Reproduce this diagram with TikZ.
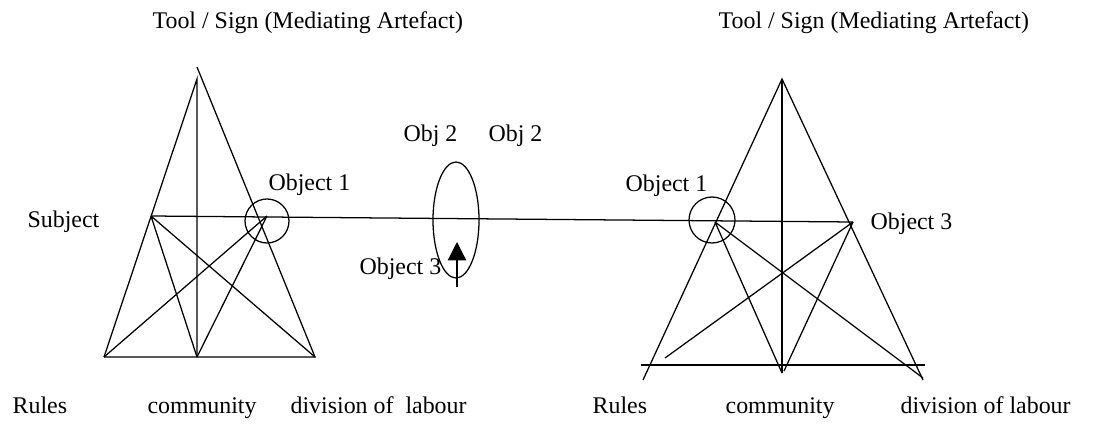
\documentclass[tikz,border=0pt]{standalone}
\usepackage{fontspec}
\setmainfont{Liberation Serif}
\usetikzlibrary{arrows.meta}
\begin{document}
\begin{tikzpicture}[x=0.025cm,y=-0.025cm,line width=0.9pt,>={Triangle[width=13pt,length=13pt]},
		txt/.style={anchor=base west,inner sep=0pt,font=\fontsize{17}{20}\selectfont}]
			\useasboundingbox (0,0) rectangle (1108,425);
			% left triangle
			\coordinate (la) at (197,79);
			\coordinate (lt) at (197,67);
			\coordinate (ls) at (151,216);
			\coordinate (lo) at (267,216);
			\coordinate (lbl) at (104,357);
			\coordinate (lbm) at (197,357);
			\coordinate (lbr) at (315,357);
			\draw (lbl)--(la)--(lbm);
			\draw (lt)--(lbr)--(lbl);
			\draw (ls)--(lbm) (ls)--(lbr);
			\draw (lo)--(lbl) (lo)--(lbm);
			\draw (267,221) circle(22);
			% right triangle
			\coordinate (ra) at (782,79);
			\coordinate (ro) at (715,222);
			\coordinate (r3) at (853,222);
			\draw (643,380)--(ra)--(923,380);
			\draw (ra)--(782,373);
			\draw (641,365)--(925,365);
			\draw (ro)--(782,373) (ro)--(923,378);
			\draw (r3)--(665,358) (r3)--(784,371);
			\draw (712,220) circle(23);
			% link between the two
			\draw (ls)--(r3);
			\draw (456,220) ellipse (23 and 58);
			\draw[->] (457,287)--(457,242);
			% labels
			\node[txt] (tl) at (152,29) {Tool / Sign (Mediating Artefact)};
			\node[txt] (tr) at (718,29) {Tool / Sign (Mediating Artefact)};
			\node[txt] (subj) at (27,228) {Subject};
			\node[txt] (o1l) at (268,191) {Object 1};
			\node[txt] (o2a) at (403,142) {Obj 2};
			\node[txt] (o2b) at (488,142) {Obj 2};
			\node[txt] (o3m) at (359,275) {Object 3};
			\node[txt] (o1r) at (625,192) {Object 1};
			\node[txt] (o3r) at (870,230) {Object 3};
			\node[txt] (rl) at (12,413) {Rules};
			\node[txt] (cl) at (147,413) {community};
			\node[txt] (dl) at (290,413) {division of\ \ labour};
			\node[txt] (rr) at (592,413) {Rules};
			\node[txt] (cr) at (725,413) {community};
			\node[txt] (dr) at (900,413) {division of labour};
		\end{tikzpicture}
\end{document}
